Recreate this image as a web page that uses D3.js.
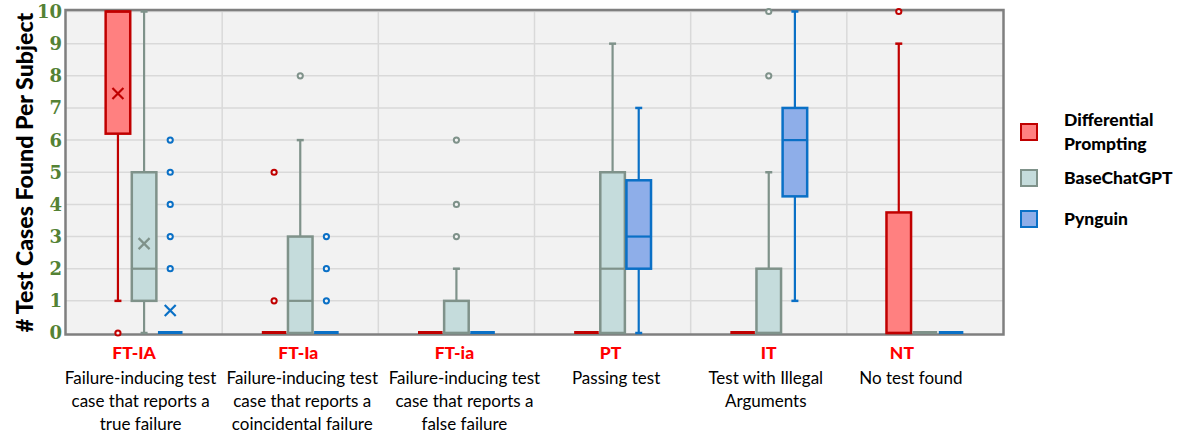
<!DOCTYPE html>
<html><head><meta charset="utf-8">
<script src="https://cdn.jsdelivr.net/npm/d3@7"></script>
<style>body{margin:0;background:#fff}</style>
</head><body>
<svg id="c" width="1196" height="437"></svg>
<script>
// ---- data ----
const categories = ["FT-IA", "FT-Ia", "FT-ia", "PT", "IT", "NT"];
const descriptions = [
  ["Failure-inducing test", "case that reports a", "true failure"],
  ["Failure-inducing test", "case that reports a", "coincidental failure"],
  ["Failure-inducing test", "case that reports a", "false failure"],
  ["Passing test"],
  ["Test with Illegal", "Arguments"],
  ["No test found"]
];
const seriesNames = ["Differential Prompting", "BaseChatGPT", "Pynguin"];
const legendLabels = [["Differential", "Prompting"], ["BaseChatGPT"], ["Pynguin"]];
const yTicks = [0, 1, 2, 3, 4, 5, 6, 7, 8, 9, 10];

// [min, q1, median, q3, max] per category
const dpStats   = [[1, 6.2, 10, 10, 10], [0, 0, 0, 0, 0], [0, 0, 0, 0, 0], [0, 0, 0, 0, 0], [0, 0, 0, 0, 0], [0, 0, 0, 3.75, 9]];
const baseStats = [[0, 1, 2, 5, 10], [0, 0, 1, 3, 6], [0, 0, 0, 1, 2], [0, 0, 2, 5, 9], [0, 0, 0, 2, 5], [0, 0, 0, 0, 0]];
const pynStats  = [[0, 0, 0, 0, 0], [0, 0, 0, 0, 0], [0, 0, 0, 0, 0], [0, 2, 3, 4.75, 7], [1, 4.25, 6, 7, 10], [0, 0, 0, 0, 0]];
const dpMeans   = [7.45, null, null, null, null, null];
const baseMeans = [2.78, null, null, null, null, null];
const pynMeans  = [0.7, null, null, null, null, null];
const dpOutliers   = [[0], [1, 5], [], [], [], [10]];
const baseOutliers = [[], [8], [3, 4, 6], [], [8, 10], []];
const pynOutliers  = [[2, 3, 4, 5, 6], [1, 2, 3], [], [], [], []];

const seriesData = [
  {stats: dpStats, means: dpMeans, outliers: dpOutliers},
  {stats: baseStats, means: baseMeans, outliers: baseOutliers},
  {stats: pynStats, means: pynMeans, outliers: pynOutliers}
];
const strokeColors = ["#c00000", "#7f928a", "#0a70c6"];
const fillColors = ["#ff8080", "#c5dcdc", "#8eaee9"];

// label nudges (layout only), px
const codeShift = [-10, -2, -2, -2, 0, -23];
const descShift = [-3.5, 2, 8, 3.5, -3, -14];

// ---- layout ----
const svg = d3.select("#c");
const plot = {left: 66, right: 1003, top: 10, bottom: 334};
const x = d3.scaleBand().domain(categories).range([plot.left, plot.right]).padding(0);
const xs = d3.scaleBand().domain(seriesNames).range([-40, 40]).padding(0.06);
const y = d3.scaleLinear().domain([0, 10]).range([333, 11.5]);

// background
svg.append("rect").attr("x", plot.left).attr("y", plot.top)
  .attr("width", plot.right - plot.left).attr("height", plot.bottom - plot.top)
  .attr("fill", "#f2f2f2");

// grid
svg.append("g").selectAll("line").data(yTicks.slice(1)).join("line")
  .attr("x1", plot.left).attr("x2", plot.right)
  .attr("y1", d => y(d)).attr("y2", d => y(d))
  .attr("stroke", "#d9d9d9").attr("stroke-width", 1.5);
svg.append("g").selectAll("line").data(categories.slice(1)).join("line")
  .attr("x1", d => x(d)).attr("x2", d => x(d))
  .attr("y1", plot.top).attr("y2", plot.bottom)
  .attr("stroke", "#d9d9d9").attr("stroke-width", 1.5);

// border
svg.append("rect").attr("x", plot.left - 0.5).attr("y", plot.top)
  .attr("width", plot.right - plot.left + 1).attr("height", plot.bottom - plot.top + 0.5)
  .attr("fill", "none").attr("stroke", "#7f7f7f").attr("stroke-width", 2.5);

// boxes
const bw = xs.bandwidth();
const capW = 7;
seriesData.forEach((s, si) => {
  const g = svg.append("g");
  const col = strokeColors[si], fill = fillColors[si];
  categories.forEach((cat, ci) => {
    const [mn, q1, med, q3, mx] = s.stats[ci];
    const cx = x(cat) + x.bandwidth() / 2 + xs(seriesNames[si]) + bw / 2;
    if (mx > q3) {
      g.append("line").attr("x1", cx).attr("x2", cx).attr("y1", y(q3)).attr("y2", y(mx))
        .attr("stroke", col).attr("stroke-width", 2.2);
      g.append("line").attr("x1", cx - capW / 2).attr("x2", cx + capW / 2).attr("y1", y(mx)).attr("y2", y(mx))
        .attr("stroke", col).attr("stroke-width", 2.5);
    }
    if (mn < q1) {
      g.append("line").attr("x1", cx).attr("x2", cx).attr("y1", y(q1)).attr("y2", y(mn))
        .attr("stroke", col).attr("stroke-width", 2.2);
      g.append("line").attr("x1", cx - capW / 2).attr("x2", cx + capW / 2).attr("y1", y(mn)).attr("y2", y(mn))
        .attr("stroke", col).attr("stroke-width", 2.5);
    }
    if (q3 > q1) {
      g.append("rect").attr("x", cx - bw / 2).attr("y", y(q3))
        .attr("width", bw).attr("height", y(q1) - y(q3))
        .attr("fill", fill).attr("stroke", col).attr("stroke-width", 2.5);
      g.append("line").attr("x1", cx - bw / 2).attr("x2", cx + bw / 2).attr("y1", y(med)).attr("y2", y(med))
        .attr("stroke", col).attr("stroke-width", 2.2);
    } else {
      g.append("line").attr("x1", cx - bw / 2).attr("x2", cx + bw / 2).attr("y1", y(q1) - 0.5).attr("y2", y(q1) - 0.5)
        .attr("stroke", col).attr("stroke-width", 3);
    }
    const m = s.means[ci];
    if (m !== null) {
      const r = 5.5;
      g.append("path")
        .attr("d", `M${cx - r},${y(m) - r}L${cx + r},${y(m) + r}M${cx - r},${y(m) + r}L${cx + r},${y(m) - r}`)
        .attr("stroke", col).attr("stroke-width", 2.2).attr("fill", "none");
    }
    g.selectAll(null).data(s.outliers[ci]).join("circle")
      .attr("cx", cx).attr("cy", d => y(d)).attr("r", 2.6)
      .attr("fill", "#f4f4f4").attr("stroke", col).attr("stroke-width", 2);
  });
});

// y axis ticks
svg.append("g").selectAll("text").data(yTicks).join("text")
  .attr("x", 62).attr("y", d => y(d)).attr("dy", "0.36em")
  .attr("text-anchor", "end")
  .attr("font-family", "DejaVu Serif, serif").attr("font-weight", "bold")
  .attr("font-size", 18).attr("fill", "#548235")
  .text(d => d);

// y title
const yt = svg.append("text")
  .attr("transform", `translate(25,${(12 + 333) / 2}) rotate(-90)`)
  .attr("text-anchor", "middle").attr("dy", "0.35em")
  .attr("font-family", "Lato, sans-serif").attr("font-weight", "900")
  .attr("font-size", 20).attr("fill", "#000")
  .text("# Test Cases Found Per Subject");
const ytl = yt.node().getComputedTextLength();
yt.attr("font-size", 20 * 320 / ytl);

// x labels
const xl = svg.append("g");
categories.forEach((cat, ci) => {
  const cx = x(cat) + x.bandwidth() / 2;
  xl.append("text").attr("x", cx + codeShift[ci]).attr("y", 353).attr("dy", "0.35em")
    .attr("text-anchor", "middle")
    .attr("font-family", "Lato, sans-serif").attr("font-weight", "900")
    .attr("font-size", 17.5).attr("fill", "#ff0000").text(cat);
  descriptions[ci].forEach((line, li) => {
    xl.append("text").attr("x", cx + descShift[ci]).attr("y", 378 + li * 23).attr("dy", "0.35em")
      .attr("text-anchor", "middle")
      .attr("font-family", "Lato, sans-serif")
      .attr("font-size", 17).attr("fill", "#000").text(line);
  });
});

// legend
const legY = [132, 178, 219];
const lg = svg.append("g");
seriesNames.forEach((n, i) => {
  lg.append("rect").attr("x", 1021).attr("y", legY[i] - 8).attr("width", 16).attr("height", 16)
    .attr("fill", fillColors[i]).attr("stroke", strokeColors[i]).attr("stroke-width", 2);
  const lines = legendLabels[i];
  lines.forEach((t, li) => {
    lg.append("text").attr("x", 1064)
      .attr("y", legY[i] + (li - (lines.length - 1) / 2) * 24).attr("dy", "0.35em")
      .attr("font-family", "Lato, sans-serif").attr("font-weight", "900")
      .attr("font-size", 17.5).attr("fill", "#000").text(t);
  });
});
</script>
</body></html>
